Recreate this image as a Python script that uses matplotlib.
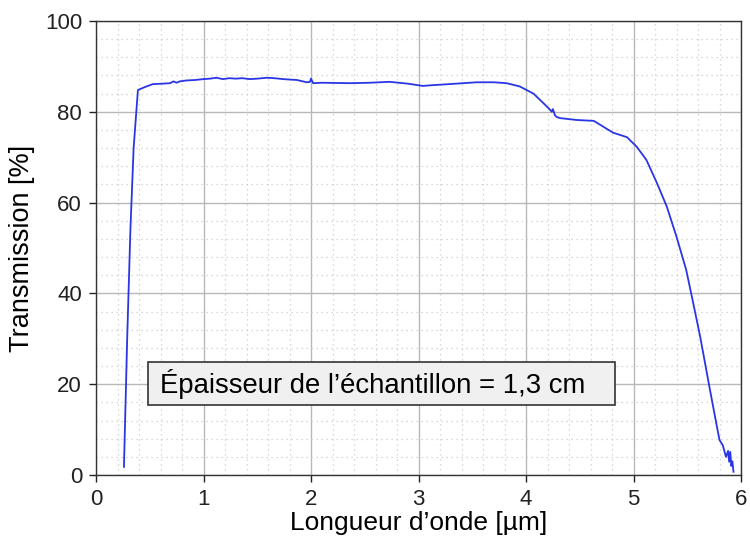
import matplotlib
matplotlib.use("Agg")
import matplotlib.pyplot as plt
from matplotlib.ticker import MultipleLocator
from matplotlib.patches import Rectangle

plt.rcParams['font.family'] = ['Liberation Sans', 'DejaVu Sans']

wavelength = [0.26, 0.29, 0.32, 0.35, 0.39, 0.46, 0.53, 0.62, 0.69, 0.72, 0.75, 0.78, 0.84,
              0.92, 1.00, 1.06, 1.12, 1.18, 1.24, 1.30, 1.36, 1.43, 1.50, 1.59, 1.66, 1.74,
              1.87, 1.96, 1.99, 2.00, 2.02, 2.10, 2.36, 2.55, 2.73, 2.90, 3.04, 3.15,
              3.29, 3.54, 3.70, 3.82, 3.94, 4.07, 4.14, 4.21, 4.24, 4.25, 4.27, 4.29, 4.32,
              4.47, 4.63, 4.72, 4.81, 4.94, 5.03, 5.12, 5.22, 5.31, 5.40, 5.49, 5.55,
              5.62, 5.70, 5.77, 5.80, 5.83, 5.86, 5.88, 5.89, 5.90, 5.91, 5.92, 5.93]
transmission = [1.8, 30.0, 54.0, 72.0, 84.8, 85.5, 86.1, 86.2, 86.3, 86.7, 86.4, 86.7, 86.9,
                87.0, 87.2, 87.3, 87.5, 87.2, 87.4, 87.3, 87.4, 87.2, 87.3, 87.5, 87.4, 87.2,
                87.0, 86.5, 86.6, 87.3, 86.3, 86.4, 86.3, 86.4, 86.6, 86.2, 85.7, 85.9,
                86.1, 86.5, 86.5, 86.3, 85.6, 84.0, 82.4, 80.8, 80.0, 80.6, 79.2, 78.8, 78.6,
                78.2, 78.0, 76.7, 75.4, 74.4, 72.3, 69.4, 64.2, 59.1, 52.5, 45.2, 38.5,
                30.5, 20.2, 11.4, 7.7, 6.6, 4.0, 5.3, 2.9, 5.1, 2.0, 3.0, 0.7]

x_ticks = [0, 1, 2, 3, 4, 5, 6]
y_ticks = [0, 20, 40, 60, 80, 100]

fig = plt.figure(figsize=(7.5, 5.48), dpi=100)
ax = fig.add_axes([0.128, 0.1332, 0.86, 0.8285])

ax.plot(wavelength, transmission, color='#2a35e6', lw=1.3, zorder=3)

ax.set_xlim(0, 6)
ax.set_ylim(0, 100)
ax.set_xticks(x_ticks)
ax.set_yticks(y_ticks)
ax.xaxis.set_minor_locator(MultipleLocator(0.2))
ax.yaxis.set_minor_locator(MultipleLocator(4))
ax.grid(which='major', color='#b8b8b8', lw=1.0)
ax.grid(which='minor', color='#cccccc', lw=0.9, linestyle=(0, (1, 3)))
ax.set_axisbelow(True)
ax.tick_params(which='major', direction='out', length=5, width=1, labelsize=16,
               colors='#222222', pad=5)
ax.tick_params(which='minor', length=0)
for s in ax.spines.values():
    s.set_color('#333333')
    s.set_linewidth(1.0)

ax.set_xlabel('Longueur d’onde [µm]', fontsize=19, labelpad=1)
ax.set_ylabel('Transmission [%]', fontsize=19.5, labelpad=7)

ax.add_patch(Rectangle((0.48, 15.4), 4.35, 9.5, facecolor='#f0f0f0', edgecolor='#333333',
                       lw=1.2, zorder=5))
ax.text(0.595, 20.1, 'Épaisseur de l’échantillon = 1,3 cm', fontsize=19.8, va='center',
        ha='left', zorder=6)

fig.savefig('out.png', dpi=100)
